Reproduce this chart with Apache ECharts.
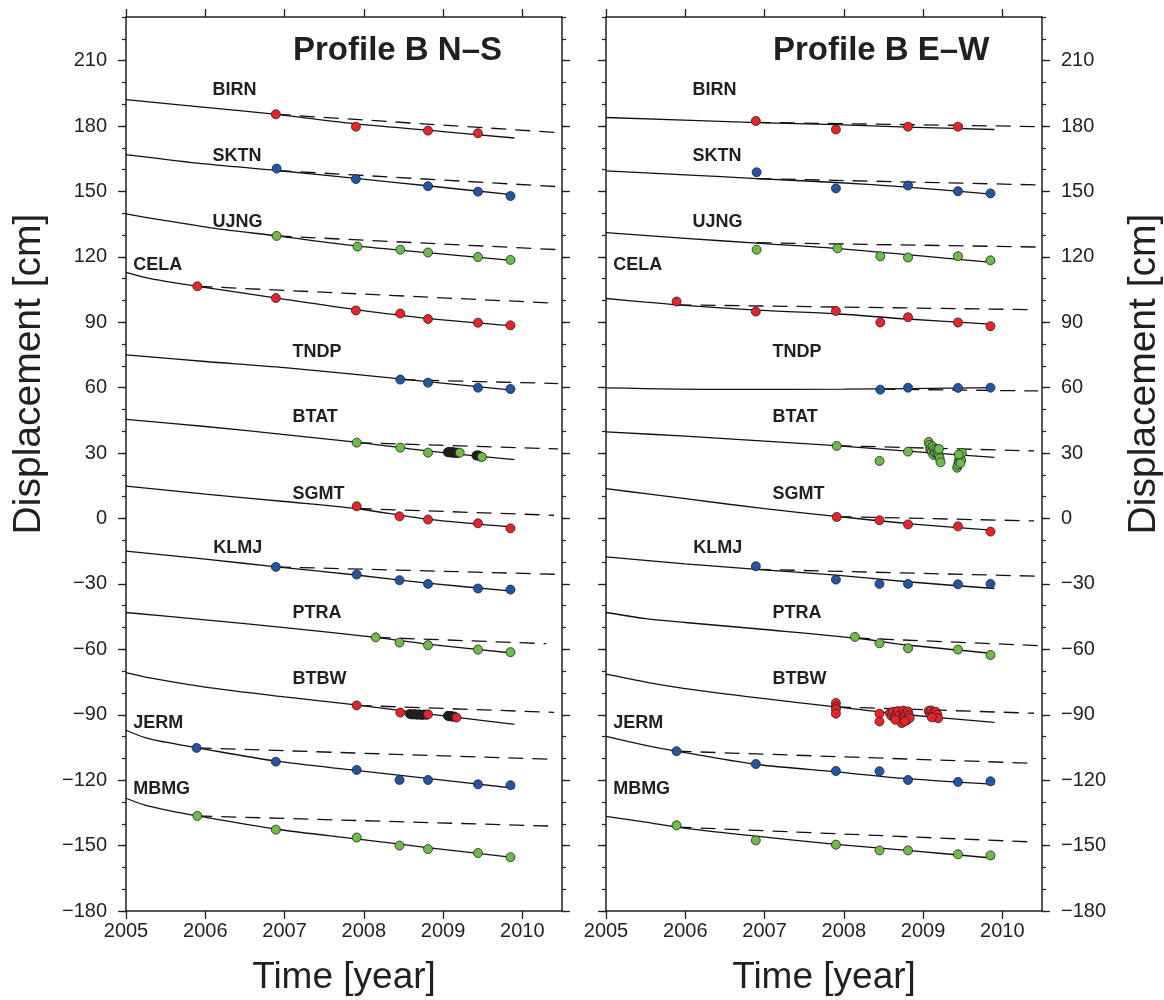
<!DOCTYPE html>
<html><head><meta charset="utf-8">
<script src="https://cdn.jsdelivr.net/npm/echarts@6/dist/echarts.min.js"></script>
<style>html,body{margin:0;padding:0;background:#fff}#c{width:1164px;height:1000px}</style>
</head><body><div id="c"></div>
<script>
// ---------------- DATA ----------------
const stations = ['BIRN','SKTN','UJNG','CELA','TNDP','BTAT','SGMT','KLMJ','PTRA','BTBW','JERM','MBMG'];
const panelTitles = ['Profile B N\u2013S','Profile B E\u2013W'];
const yearTicks = [2005,2006,2007,2008,2009,2010];
const cmTicks = [-180,-150,-120,-90,-60,-30,0,30,60,90,120,150,180,210];

// model curves (solid), N-S
const nsCurves = [
 [[2005,192.1],[2005.9,188.9],[2006.9,185.3],[2007.9,181.0],[2008.8,178.1],[2009.9,174.5]],
 [[2005,166.9],[2005.9,163.0],[2006.9,159.6],[2007.9,156.0],[2008.8,152.6],[2009.9,148.4]],
 [[2005,139.7],[2005.4,137.2],[2006.1,133.2],[2006.9,129.6],[2007.9,125.0],[2008.8,121.9],[2009.9,118.3]],
 [[2005,112.9],[2005.25,110.5],[2005.5,108.8],[2005.9,106.5],[2006.9,101.1],[2007.9,95.8],[2008.8,91.8],[2009.9,88.3]],
 [[2005,75.0],[2006,72.0],[2007,69.2],[2008.46,64.0],[2009.9,58.8]],
 [[2005,45.5],[2006,42.2],[2007,38.5],[2007.9,35.0],[2008.8,31.0],[2009.9,27.0]],
 [[2005,14.9],[2006,11.2],[2007,7.8],[2007.9,4.6],[2008.8,-0.3],[2009.9,-4.0]],
 [[2005,-15.0],[2006,-18.6],[2006.9,-22.2],[2007.9,-25.9],[2008.8,-29.6],[2009.9,-33.4]],
 [[2005,-43.1],[2006,-46.5],[2007,-50.0],[2008.15,-54.5],[2008.8,-57.6],[2009.9,-61.8]],
 [[2005,-70.7],[2005.3,-73.1],[2006,-77.3],[2007,-81.8],[2007.9,-85.5],[2008.8,-89.6],[2009.9,-94.4]],
 [[2005,-97.1],[2005.25,-100.6],[2005.5,-102.6],[2005.9,-105.2],[2006.9,-111.3],[2007.9,-115.5],[2008.8,-119.2],[2009.9,-123.7]],
 [[2005,-128.3],[2005.25,-131.6],[2005.5,-133.6],[2005.9,-136.4],[2006.9,-142.5],[2007.9,-146.9],[2008.8,-150.9],[2009.9,-155.5]]
];
// linear trends (dashed), N-S
const nsTrends = [
 [[2006.89,185.4],[2010.45,177.0]],
 [[2006.9,159.6],[2010.45,152.2]],
 [[2006.9,129.6],[2010.45,123.3]],
 [[2005.9,106.5],[2010.4,98.8]],
 [[2008.46,63.7],[2010.45,61.9]],
 [[2007.91,34.8],[2010.45,31.9]],
 [[2007.91,4.6],[2010.4,1.5]],
 [[2006.89,-22.2],[2010.45,-25.6]],
 [[2008.15,-54.5],[2010.3,-57.4]],
 [[2007.91,-85.7],[2010.4,-88.9]],
 [[2005.89,-105.2],[2010.35,-110.4]],
 [[2005.9,-136.4],[2010.4,-141.1]]
];
// campaign observations, N-S
const nsObs = [
 [[2006.89,185.4],[2007.90,179.7],[2008.81,177.9],[2009.44,176.7]],
 [[2006.90,160.5],[2007.90,155.7],[2008.81,152.4],[2009.44,149.9],[2009.85,147.9]],
 [[2006.90,129.6],[2007.92,124.7],[2008.46,123.3],[2008.81,122.0],[2009.44,119.9],[2009.85,118.6]],
 [[2005.90,106.5],[2006.89,101.1],[2007.90,95.4],[2008.46,94.0],[2008.81,91.5],[2009.44,89.8],[2009.85,88.6]],
 [[2008.46,63.7],[2008.81,62.3],[2009.44,60.0],[2009.85,59.4]],
 [[2007.91,34.8],[2008.46,32.5],[2008.81,30.2],[2009.21,30.2],[2009.49,28.2]],
 [[2007.91,5.6],[2008.45,1.0],[2008.81,-0.5],[2009.44,-2.2],[2009.85,-4.5]],
 [[2006.89,-22.2],[2007.91,-25.7],[2008.45,-28.3],[2008.81,-30.0],[2009.44,-32.1],[2009.85,-32.6]],
 [[2008.15,-54.5],[2008.45,-56.9],[2008.81,-58.1],[2009.44,-60.1],[2009.85,-61.3]],
 [[2007.91,-85.7],[2008.46,-89.0],[2008.81,-89.8],[2009.17,-91.3]],
 [[2005.89,-105.2],[2006.89,-111.5],[2007.91,-115.3],[2008.45,-119.9],[2008.81,-119.9],[2009.44,-121.9],[2009.85,-122.3]],
 [[2005.90,-136.4],[2006.89,-142.7],[2007.91,-146.3],[2008.45,-150.0],[2008.81,-151.6],[2009.44,-153.4],[2009.85,-155.3]]
];
// dense continuous observations (drawn dark), N-S
const nsDense = [[],[],[],[],[],
 [[2009.06,30.4],[2009.08,30.6],[2009.10,30.2],[2009.12,30.5],[2009.14,30.1],[2009.16,30.3],[2009.18,30.0],[2009.42,28.9],[2009.44,29.0],[2009.46,28.6]],
 [],[],[],
 [[2008.58,-89.6],[2008.61,-89.9],[2008.64,-89.7],[2008.67,-90.0],[2008.70,-89.8],[2008.73,-90.1],[2008.76,-89.9],[2008.79,-90.0],[2009.06,-90.5],[2009.08,-90.7],[2009.10,-90.6],[2009.12,-90.9],[2009.14,-90.8]],
 [],[]
];

// model curves (solid), E-W
const ewCurves = [
 [[2005,183.9],[2006.9,181.6],[2007.9,180.6],[2008.8,179.5],[2009.9,178.4]],
 [[2005,159.4],[2006,157.6],[2006.9,155.9],[2007.9,154.1],[2008.8,152.0],[2009.9,148.7]],
 [[2005,131.1],[2006,128.5],[2006.9,126.3],[2007.9,123.9],[2008.8,121.0],[2009.9,117.4]],
 [[2005,100.9],[2005.5,99.2],[2005.9,98.0],[2006.9,95.6],[2007.9,93.9],[2008.8,91.5],[2009.9,89.0]],
 [[2005,59.9],[2006.5,59.2],[2008,59.3],[2009.9,60.0]],
 [[2005,39.7],[2006,37.8],[2007,35.5],[2007.9,33.4],[2008.8,30.9],[2009.9,28.0]],
 [[2005,13.7],[2005.5,11.4],[2006,9.1],[2007,4.5],[2007.9,1.0],[2008.8,-2.3],[2009.9,-5.4]],
 [[2005,-17.6],[2006,-20.8],[2006.9,-23.3],[2007.9,-26.0],[2008.8,-29.0],[2009.9,-32.1]],
 [[2005,-43.1],[2005.5,-45.9],[2006,-47.7],[2007,-50.9],[2008.14,-54.8],[2008.8,-58.0],[2009.9,-61.9]],
 [[2005,-71.4],[2005.5,-75.0],[2006,-78.0],[2007,-82.6],[2007.9,-86.4],[2008.8,-90.0],[2009.9,-93.5]],
 [[2005,-99.9],[2005.5,-104.0],[2005.89,-106.7],[2006.89,-112.7],[2007.9,-116.2],[2008.8,-119.3],[2009.9,-121.9]],
 [[2005,-136.6],[2005.5,-139.2],[2005.89,-141.5],[2006.89,-145.7],[2007.9,-149.4],[2008.8,-152.2],[2009.9,-155.8]]
];
// linear trends (dashed), E-W
const ewTrends = [
 [[2006.89,181.7],[2010.5,179.7]],
 [[2006.9,155.9],[2010.45,153.0]],
 [[2006.9,126.5],[2010.47,124.5]],
 [[2005.89,98.0],[2010.35,95.8]],
 [[2008.46,59.3],[2010.45,58.5]],
 [[2007.91,33.4],[2010.4,31.0]],
 [[2007.91,0.9],[2010.4,-1.1]],
 [[2006.89,-23.3],[2010.5,-26.5]],
 [[2008.14,-54.8],[2010.47,-58.3]],
 [[2007.9,-86.4],[2010.4,-89.3]],
 [[2005.89,-106.7],[2010.35,-112.2]],
 [[2005.89,-141.5],[2010.35,-148.3]]
];
// observations, E-W
const ewObs = [
 [[2006.89,182.3],[2007.90,178.4],[2008.81,179.7],[2009.44,179.7]],
 [[2006.90,158.8],[2007.90,151.4],[2008.81,152.7],[2009.44,150.1],[2009.85,149.1]],
 [[2006.90,123.3],[2007.92,123.9],[2008.46,120.3],[2008.81,119.7],[2009.44,120.3],[2009.85,118.4]],
 [[2005.89,99.5],[2006.89,94.9],[2007.90,95.2],[2008.46,89.9],[2008.81,92.3],[2009.44,89.9],[2009.85,88.2]],
 [[2008.46,59.1],[2008.81,60.0],[2009.44,59.9],[2009.85,60.0]],
 [[2007.91,33.3],[2008.45,26.4],[2008.81,30.7],
  [2009.07,35.1],[2009.08,33.7],[2009.09,31.5],[2009.10,32.5],[2009.11,30.6],[2009.12,33.0],[2009.13,29.2],[2009.14,31.9],[2009.15,30.2],[2009.17,31.5],[2009.18,29.6],[2009.19,30.8],[2009.20,28.6],[2009.21,27.5],[2009.22,25.8],[2009.20,31.9],
  [2009.43,23.3],[2009.44,24.6],[2009.45,26.2],[2009.46,27.6],[2009.47,28.8],[2009.48,26.8],[2009.49,30.1],[2009.45,29.3],[2009.47,25.4]],
 [[2007.91,0.7],[2008.45,-0.8],[2008.81,-2.7],[2009.44,-3.6],[2009.85,-6.0]],
 [[2006.89,-21.9],[2007.90,-28.0],[2008.45,-30.0],[2008.81,-30.0],[2009.44,-30.2],[2009.85,-30.0]],
 [[2008.14,-54.3],[2008.45,-57.2],[2008.81,-59.5],[2009.44,-60.1],[2009.85,-62.6]],
 [[2007.90,-84.6],[2007.90,-86.4],[2007.90,-87.5],[2007.90,-89.5],[2008.45,-89.5],[2008.45,-93.1],
  [2008.58,-89.2],[2008.60,-90.5],[2008.62,-88.6],[2008.64,-91.0],[2008.66,-89.8],[2008.68,-88.3],[2008.70,-90.3],[2008.72,-92.0],[2008.73,-93.8],[2008.75,-88.1],[2008.76,-90.8],[2008.78,-89.3],[2008.79,-92.6],[2008.81,-88.5],[2008.82,-90.2],[2008.83,-91.5],[2008.77,-93.0],[2008.65,-92.3],
  [2009.07,-88.3],[2009.09,-89.5],[2009.10,-88.0],[2009.12,-90.4],[2009.13,-89.0],[2009.15,-91.0],[2009.16,-88.6],[2009.18,-90.0],[2009.19,-91.6],[2009.11,-91.2]],
 [[2005.89,-106.7],[2006.89,-112.6],[2007.90,-115.8],[2008.45,-115.9],[2008.81,-119.9],[2009.44,-120.8],[2009.85,-120.5]],
 [[2005.89,-140.7],[2006.89,-147.6],[2007.90,-149.6],[2008.45,-152.2],[2008.81,-152.2],[2009.44,-154.0],[2009.85,-154.5]]
];
const ewDense = [[],[],[],[],[],[],[],[],[],[],[],[]];

// ---------------- LAYOUT / STYLE ----------------
// station label anchor (data coordinates: year, cm) - same in both panels
const labelAnchorX = [2006.09,2006.09,2006.09,2005.09,2007.10,2007.10,2007.10,2006.10,2007.10,2007.10,2005.09,2005.09];
const labelAnchorY = [196.4,166.4,136.0,116.1,76.4,46.6,11.1,-13.5,-43.3,-73.4,-93.8,-123.9];
const PAL = {r:'#ec2227', b:'#1f56a6', g:'#6bbd46'};
const stColor = [PAL.r,PAL.b,PAL.g,PAL.r,PAL.b,PAL.g,PAL.r,PAL.b,PAL.g,PAL.r,PAL.b,PAL.g];
const FONT = '"Liberation Sans", Arial, Helvetica, sans-serif';
const INK = '#231f20';
const G = [{left:126, top:17, width:436, height:894},{left:606, top:17, width:436, height:894}];

const minus = s => String(s).replace('-', '\u2212');
const xAxes = [], yAxes = [];
G.forEach((g, gi) => {
  ['bottom','top'].forEach(pos => {
    xAxes.push({type:'value', gridIndex:gi, position:pos, min:2005, max:2010.5, interval:1,
      axisLine:{show:true, onZero:false, lineStyle:{color:INK,width:1.5}}, splitLine:{show:false},
      axisTick:{length:8, customValues:yearTicks, lineStyle:{color:INK,width:1.3}},
      axisLabel:{show:pos==='bottom', customValues:yearTicks, fontFamily:FONT, fontSize:20, color:INK, margin:10,
        formatter: v => String(v)}});
  });
  ['left','right'].forEach(pos => {
    const showLab = (gi===0 && pos==='left') || (gi===1 && pos==='right');
    yAxes.push({type:'value', gridIndex:gi, position:pos, min:-180, max:230, interval:30,
      axisLine:{show:true, onZero:false, lineStyle:{color:INK,width:1.5}}, splitLine:{show:false},
      axisTick:{length:8, customValues:cmTicks, lineStyle:{color:INK,width:1.3}},
      axisLabel:{show:showLab, customValues:cmTicks, fontFamily:FONT, fontSize:20, color:INK, margin:19,
        formatter: v => minus(v)}});
    yAxes.push({type:'value', gridIndex:gi, position:pos, min:-180, max:230, interval:10,
      axisLine:{show:false, onZero:false}, splitLine:{show:false}, axisLabel:{show:false},
      axisTick:{length:4, lineStyle:{color:INK,width:1.2}}});
  });
});

const series = [];
const panels = [
  {curves:nsCurves, trends:nsTrends, obs:nsObs, dense:nsDense, x:0, y:0},
  {curves:ewCurves, trends:ewTrends, obs:ewObs, dense:ewDense, x:2, y:4}
];
panels.forEach(P => {
  stations.forEach((name, i) => {
    series.push({type:'line', xAxisIndex:P.x, yAxisIndex:P.y, data:P.curves[i], smooth:0.3,
      symbol:'none', lineStyle:{color:'#111', width:1.3}, z:2, silent:true});
    series.push({type:'line', xAxisIndex:P.x, yAxisIndex:P.y, data:P.trends[i],
      symbol:'none', lineStyle:{color:'#111', width:1.3, type:[15,9]}, z:2, silent:true});
    if (P.dense[i].length) series.push({type:'scatter', xAxisIndex:P.x, yAxisIndex:P.y, data:P.dense[i],
      symbol:'circle', symbolSize:9, itemStyle:{color:'#2b2626', borderColor:'#111', borderWidth:0.8, opacity:1}, z:3});
    series.push({type:'scatter', xAxisIndex:P.x, yAxisIndex:P.y, data:P.obs[i],
      symbol:'circle', symbolSize:9, itemStyle:{color:stColor[i], borderColor:'#222', borderWidth:0.8, opacity:1}, z:4});
  });
});

const chart = echarts.init(document.getElementById('c'), null, {renderer:'canvas'});
const baseGraphic = [
  {type:'text', left:293, top:34, style:{text:panelTitles[0], font:'bold 33px '+FONT, fill:INK}},
  {type:'text', left:773, top:34, style:{text:panelTitles[1], font:'bold 33px '+FONT, fill:INK}},
  {type:'text', x:344, y:978, style:{text:'Time [year]', font:'37px '+FONT, fill:INK, textAlign:'center', textVerticalAlign:'middle'}},
  {type:'text', x:824, y:978, style:{text:'Time [year]', font:'37px '+FONT, fill:INK, textAlign:'center', textVerticalAlign:'middle'}},
  {type:'text', x:29, y:374, rotation:Math.PI/2, style:{text:'Displacement [cm]', font:'39px '+FONT, fill:INK, textAlign:'center', textVerticalAlign:'middle'}},
  {type:'text', x:1144, y:374, rotation:Math.PI/2, style:{text:'Displacement [cm]', font:'39px '+FONT, fill:INK, textAlign:'center', textVerticalAlign:'middle'}}
];
chart.setOption({
  animation:false, backgroundColor:'#fff',
  grid:G, xAxis:xAxes, yAxis:yAxes, series:series, graphic:baseGraphic
});
// station labels placed through the axes' own scales
const labelGraphic = [];
[0,1].forEach(gi => {
  stations.forEach((n, i) => {
    const p = chart.convertToPixel({xAxisIndex: gi*2, yAxisIndex: gi*4}, [labelAnchorX[i], labelAnchorY[i]]);
    labelGraphic.push({type:'text', x:p[0], y:p[1], style:{text:n, font:'bold 18px '+FONT, fill:INK, textVerticalAlign:'middle'}});
  });
});
chart.setOption({graphic: baseGraphic.concat(labelGraphic)});
</script></body></html>
